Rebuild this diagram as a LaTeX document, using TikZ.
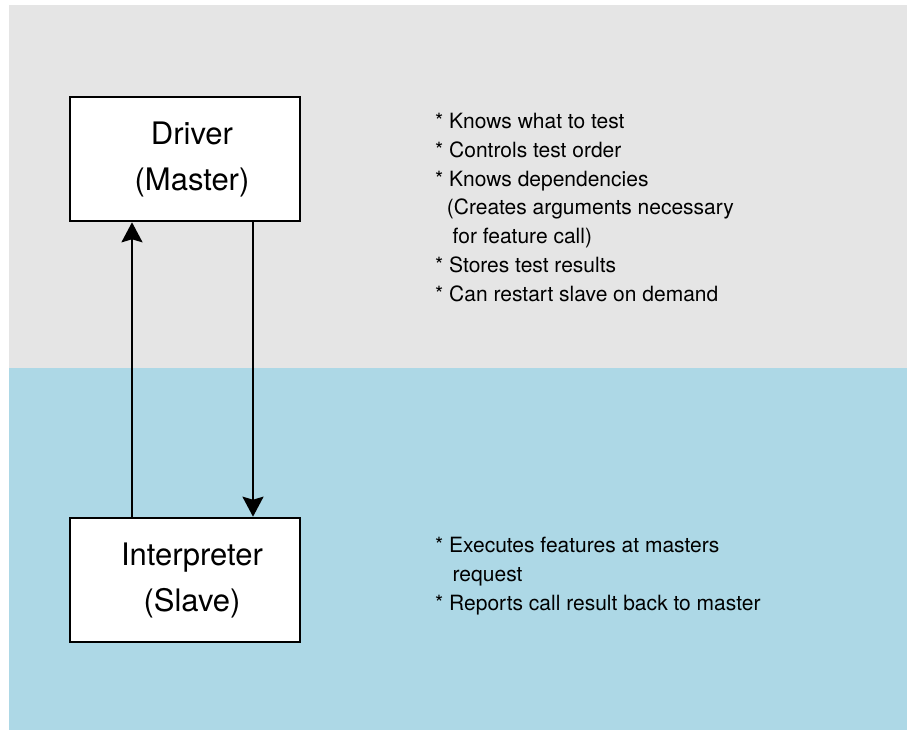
\documentclass[tikz,border=0pt]{standalone}
\usepackage{fontspec}
\setmainfont{TeX Gyre Heros}
\usetikzlibrary{arrows.meta}

\definecolor{panelgray}{HTML}{E5E5E5}
\definecolor{panelblue}{HTML}{ADD8E6}

% each box label sits a little right of the box centre
\newcommand{\boxline}[1]{\hspace*{14pt}#1}

\begin{document}
\begin{tikzpicture}[x=1pt,y=-1pt,
  rolebox/.style={draw=black,fill=white,line width=2.6pt,
    minimum width=230pt,minimum height=124pt,inner sep=0pt,
    align=center,font=\fontsize{31}{46}\selectfont},
  notes/.style={anchor=north west,inner sep=0pt,align=left,
    font=\fontsize{21}{28.8}\selectfont},
  link/.style={line width=2.2pt,-{Stealth[length=20pt,width=21pt,inset=3pt]}}]

  % page and the two panels
  \useasboundingbox (0,0) rectangle (907,730);
  \fill[white] (0,0) rectangle (907,730);
  \fill[panelgray] (9,5) rectangle (907,368);
  \fill[panelblue] (9,368) rectangle (907,730);

  % the two processes
  \node[rolebox] (driver) at (185,159) {\boxline{Driver}\\\boxline{(Master)}};
  \node[rolebox] (interp) at (185,580) {\boxline{Interpreter}\\\boxline{(Slave)}};

  % request and reply channels
  \draw[link] ([xshift=-53pt]interp.north) -- ([xshift=-53pt]driver.south);
  \draw[link] ([xshift=68pt]driver.south) -- ([xshift=68pt]interp.north);

  % responsibilities
  \node[notes] (drivernotes) at (435,113) {%
    * Knows what to test\\
    * Controls test order\\
    * Knows dependencies\\
    \hspace*{11.7pt}(Creates arguments necessary\\
    \hspace*{17.5pt}for feature call)\\
    * Stores test results\\
    * Can restart slave on demand};
  \node[notes] (interpnotes) at (435,537) {%
    * Executes features at masters\\
    \hspace*{17.5pt}request\\
    * Reports call result back to master};
\end{tikzpicture}
\end{document}
